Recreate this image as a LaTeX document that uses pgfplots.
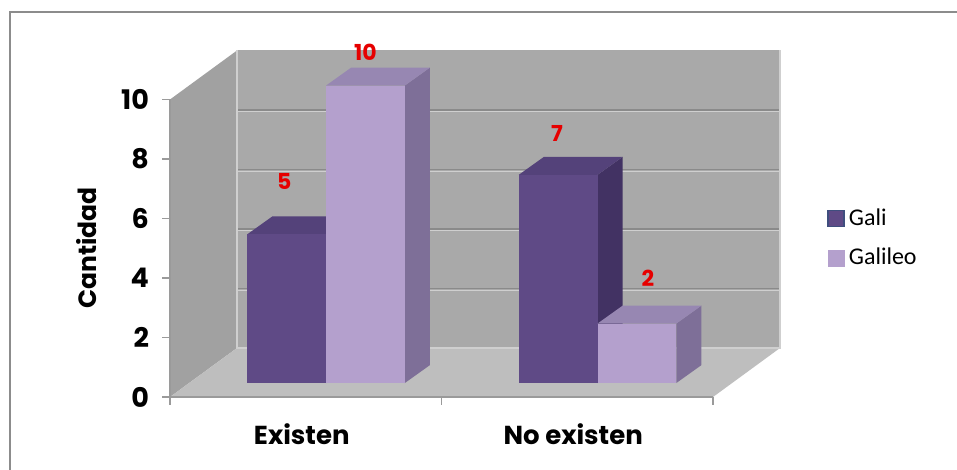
\documentclass[border=0pt]{standalone}
\usepackage{pgfplots}
\pgfplotsset{compat=1.18}
\usepackage{pgfplotstable}
\usepackage{fontspec}
\setmainfont{Poppins}
\newfontfamily\legendfont{Carlito}

\definecolor{galiFront}{HTML}{5F4A86}
\definecolor{galiTop}{HTML}{54427A}
\definecolor{galiSide}{HTML}{423263}
\definecolor{galiEdge}{HTML}{3F4E7E}
\definecolor{galileoFront}{HTML}{B4A0CD}
\definecolor{galileoTop}{HTML}{9787B2}
\definecolor{galileoSide}{HTML}{7E6F98}
\definecolor{wallBack}{HTML}{A9A9A9}
\definecolor{wallSide}{HTML}{A1A1A1}
\definecolor{floorC}{HTML}{BEBEBE}
\definecolor{gridC}{HTML}{8A8A8A}
\definecolor{gridHi}{HTML}{CFCFCF}
\definecolor{axisC}{HTML}{9A9A9A}
\definecolor{frameC}{HTML}{8C8C8C}
\definecolor{lblRed}{HTML}{E60000}

% values per category, plus where each value label sits above its bar
\pgfplotstableread{
cat gali galileo galiLx galiLy galileoLx galileoLy
0   5    10      -0.009 1.79   0.000     1.13
1   7    2       -0.005 1.40   0.040     1.53
}\datatable

% geometry of the oblique 3-D look (axis units)
\newcommand\floory{-0.47}   % front edge of the floor (value 0 on the front plane)
\newcommand\barshift{0.075} % clustered pair offset from the category centre
\newcommand\barw{0.29}      % width of one column
\newcommand\bdx{0.092}      % column depth, horizontal part
\newcommand\bdy{0.60}       % column depth, vertical part

% one column: #1 left x, #2 right x, #3 value, #4 colour prefix
\newcommand\drawbox[4]{%
  \pgfmathsetmacro\xa{#1}\pgfmathsetmacro\xb{#2}%
  \pgfmathsetmacro\xc{#2+\bdx}\pgfmathsetmacro\xd{#1+\bdx}%
  \pgfmathsetmacro\yt{#3}\pgfmathsetmacro\yu{#3+\bdy}%
  \edef\next{%
    \noexpand\addplot[fill=#4Side, draw=none, forget plot]
      coordinates {(\xb,0) (\xc,\bdy) (\xc,\yu) (\xb,\yt)} -- cycle;
    \noexpand\addplot[fill=#4Top, draw=none, forget plot]
      coordinates {(\xa,\yt) (\xb,\yt) (\xc,\yu) (\xd,\yu)} -- cycle;
    \noexpand\addplot[fill=#4Front, draw=none, forget plot]
      coordinates {(\xa,0) (\xb,0) (\xb,\yt) (\xa,\yt)} -- cycle;
  }\next
}

% value label above a column: #1 centre x, #2 value, #3 dx, #4 dy
\newcommand\drawlabel[4]{%
  \pgfmathsetmacro\lx{#1+#3}\pgfmathsetmacro\ly{#2+#4}%
  \pgfmathtruncatemacro\lv{#2}%
  \edef\next{\noexpand\node[text=lblRed, font=\noexpand\bfseries\noexpand\fontsize{11}{13}\noexpand\selectfont]
    at (axis cs:\lx,\ly) {\lv};}\next
}

\newcommand\drawcategory[1]{%
  \pgfplotstablegetelem{#1}{cat}\of\datatable \let\ccat\pgfplotsretval
  \pgfplotstablegetelem{#1}{gali}\of\datatable \let\vgali\pgfplotsretval
  \pgfplotstablegetelem{#1}{galileo}\of\datatable \let\vgalileo\pgfplotsretval
  \pgfplotstablegetelem{#1}{galiLx}\of\datatable \let\galx\pgfplotsretval
  \pgfplotstablegetelem{#1}{galiLy}\of\datatable \let\galy\pgfplotsretval
  \pgfplotstablegetelem{#1}{galileoLx}\of\datatable \let\gblx\pgfplotsretval
  \pgfplotstablegetelem{#1}{galileoLy}\of\datatable \let\gbly\pgfplotsretval
  \pgfmathsetmacro\xl{\ccat+\barshift-\barw}%
  \pgfmathsetmacro\xm{\ccat+\barshift}%
  \pgfmathsetmacro\xr{\ccat+\barshift+\barw}%
  \pgfmathsetmacro\centL{\ccat+\barshift-\barw/2}%
  \pgfmathsetmacro\centR{\ccat+\barshift+\barw/2}%
  \let\keepL\centL \let\keepR\centR
  \drawbox{\xl}{\xm}{\vgali}{gali}%
  \drawbox{\xm}{\xr}{\vgalileo}{galileo}%
  \drawlabel{\keepL}{\vgali}{\galx}{\galy}%
  \drawlabel{\keepR}{\vgalileo}{\gblx}{\gbly}%
}

\begin{document}
\begin{tikzpicture}
\useasboundingbox (0,0) rectangle (478.5pt,235pt);
\fill[white] (0,0) rectangle (478.5pt,235pt);
\draw[frameC, line width=1pt] (5pt,-20pt) rectangle (500pt,229pt);

\begin{axis}[
  at={(85pt,36.5pt)}, anchor=south west,
  scale only axis, width=305pt, height=173.25pt,
  xmin=-0.5, xmax=1.7468, ymin=-0.47, ymax=11.177,
  axis lines*=left, axis line style={draw=none},
  clip=false,
  tick align=outside, major tick length=4pt,
  ytick={-0.47,1.53,3.53,5.53,7.53,9.53},
  yticklabels={0,2,4,6,8,10},
  ytick style={draw=axisC, line width=0.7pt},
  xtick={0,1}, xticklabels={Existen,No existen},
  xtick style={draw=none},
  extra x ticks={-0.5,0.5,1.5}, extra x tick labels={},
  extra x tick style={xtick style={draw=axisC, line width=0.7pt}},
  yticklabel style={font=\bfseries\fontsize{13.5}{15}\selectfont, xshift=-3pt},
  xticklabel style={font=\bfseries\fontsize{13}{15}\selectfont, yshift=-6pt, xshift=-2pt},
  /pgf/number format/assume math mode=true,
  legend style={at={(1.067,0.458)}, anchor=west, draw=none, fill=none,
    font=\legendfont\fontsize{12}{14}\selectfont, row sep=6pt},
  legend cell align=left,
]
% walls and floor of the box
\fill[wallSide] (axis cs:-0.5,\floory) -- (axis cs:-0.5,9.53)
  -- (axis cs:-0.2532,11.177) -- (axis cs:-0.2532,1.177) -- cycle;
\fill[wallBack] (axis cs:-0.2532,1.177) rectangle (axis cs:1.7468,11.177);
\fill[floorC] (axis cs:-0.5,\floory) -- (axis cs:1.5,\floory)
  -- (axis cs:1.7468,1.177) -- (axis cs:-0.2532,1.177) -- cycle;
% gridlines on the back wall
\draw[gridC, line width=0.7pt] (axis cs:-0.2532,3.177) -- (axis cs:1.7468,3.177);
\draw[gridC, line width=0.7pt] (axis cs:-0.2532,5.177) -- (axis cs:1.7468,5.177);
\draw[gridC, line width=0.7pt] (axis cs:-0.2532,7.177) -- (axis cs:1.7468,7.177);
\draw[gridC, line width=0.7pt] (axis cs:-0.2532,9.177) -- (axis cs:1.7468,9.177);
\draw[gridHi, line width=0.4pt] (axis cs:-0.2532,3.117) -- (axis cs:1.7468,3.117);
\draw[gridHi, line width=0.4pt] (axis cs:-0.2532,5.117) -- (axis cs:1.7468,5.117);
\draw[gridHi, line width=0.4pt] (axis cs:-0.2532,7.117) -- (axis cs:1.7468,7.117);
\draw[gridHi, line width=0.4pt] (axis cs:-0.2532,9.117) -- (axis cs:1.7468,9.117);
\draw[gridHi, line width=0.6pt] (axis cs:-0.2532,11.177) -- (axis cs:-0.2532,1.177)
  -- (axis cs:1.7468,1.177) -- (axis cs:1.7468,11.177);
% front axis lines
\draw[axisC, line width=0.7pt] (axis cs:-0.5,\floory) -- (axis cs:-0.5,9.53);
\draw[axisC, line width=0.7pt] (axis cs:-0.5,\floory) -- (axis cs:1.5,\floory);

\drawcategory{0}
\drawcategory{1}

\addlegendimage{legend image code/.code={\draw[fill=galiFront, draw=galiEdge, line width=0.8pt] (0pt,-4pt) rectangle (8pt,4pt);}}
\addlegendentry{Gali}
\addlegendimage{legend image code/.code={\fill[galileoFront] (0pt,-4pt) rectangle (8pt,4pt);}}
\addlegendentry{Galileo}
\end{axis}

\node[rotate=90, font=\bfseries\fontsize{12.5}{14}\selectfont] at (43.5pt,111pt) {Cantidad};
\end{tikzpicture}
\end{document}
